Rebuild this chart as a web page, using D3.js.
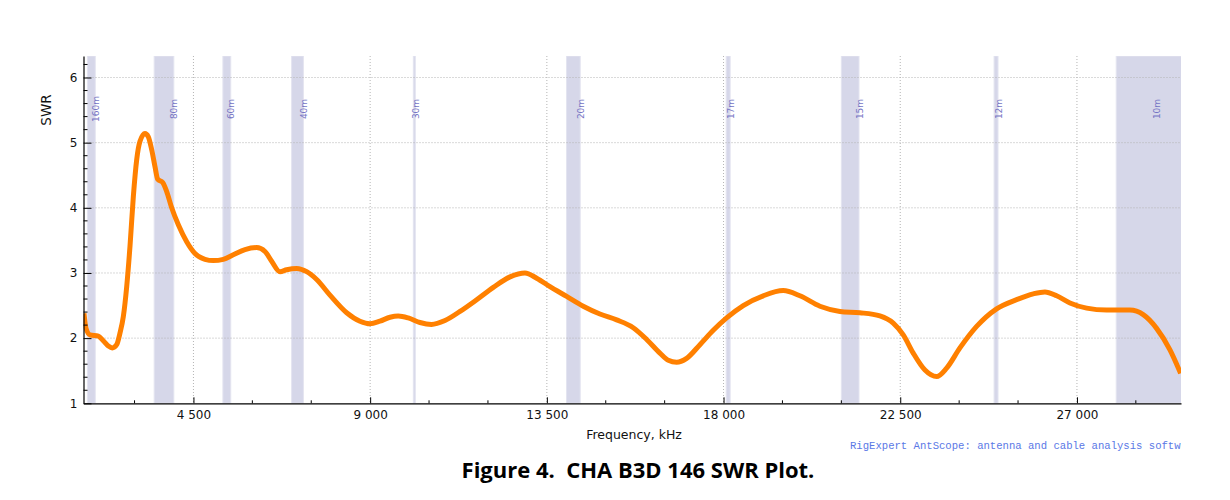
<!DOCTYPE html>
<html>
<head>
<meta charset="utf-8">
<script src="https://cdn.jsdelivr.net/npm/d3@7"></script>
<style>
  body { margin: 0; background: #fff; }
  svg { display: block; }
</style>
</head>
<body>
<div class="svg-content"></div>
<script>
// SWR readings, frequency in kHz
var freqs = [1713, 1764, 1866, 2077, 2204, 2332, 2433, 2545, 2630, 2714, 2800, 2884, 2969, 3055, 3139,
  3266, 3351, 3437, 3521, 3589, 3717, 3819, 3946, 4115, 4328, 4539, 4794, 5006, 5260, 5515, 5813,
  6110, 6322, 6492, 6704, 6874, 7129, 7384, 7638, 7977, 8402, 8741, 8996, 9250, 9505, 9716, 9971,
  10269, 10562, 10906, 11288, 11713, 12137, 12562, 12943, 13241, 13580, 14005, 14427, 14852, 15278,
  15700, 16042, 16380, 16592, 16806, 17060, 17399, 17738, 18078, 18502, 19011, 19520, 19945, 20455,
  20964, 21473, 21982, 22322, 22577, 22831, 23129, 23427, 23681, 24020, 24445, 24954, 25464, 25888,
  26185, 26483, 26822, 27247, 27756, 28350, 28688, 29029, 29369, 29640];
var swr = [2.38, 2.15, 2.05, 2.03, 1.96, 1.88, 1.85, 1.90, 2.08, 2.33, 2.79, 3.41, 4.17, 4.74, 5.02,
  5.14, 5.09, 4.89, 4.63, 4.44, 4.39, 4.25, 4.00, 3.74, 3.48, 3.30, 3.21, 3.19, 3.21, 3.28, 3.36,
  3.39, 3.33, 3.18, 3.02, 3.05, 3.07, 3.02, 2.90, 2.66, 2.39, 2.26, 2.22, 2.26, 2.32, 2.34, 2.31,
  2.24, 2.21, 2.27, 2.41, 2.59, 2.78, 2.94, 3.00, 2.92, 2.79, 2.64, 2.49, 2.37, 2.28,
  2.16, 1.98, 1.77, 1.66, 1.63, 1.69, 1.90, 2.12, 2.31, 2.50, 2.65, 2.73, 2.65, 2.49,
  2.41, 2.39, 2.34, 2.23, 2.05, 1.77, 1.51, 1.41, 1.54, 1.85, 2.18, 2.45, 2.59, 2.68,
  2.71, 2.65, 2.54, 2.46, 2.43, 2.43, 2.36, 2.15, 1.82, 1.46];

// ham bands
var bandNames = ["160m", "80m", "60m", "40m", "30m", "20m", "17m", "15m", "12m", "10m"];
var bandLo = [1800, 3500, 5250, 7000, 10100, 14000, 18068, 21000, 24890, 28000];
var bandHi = [2000, 4000, 5450, 7300, 10150, 14350, 18168, 21450, 24990, 29700];

var xTicks = [4500, 9000, 13500, 18000, 22500, 27000];
var xMinor = [3000, 6000, 7500, 10500, 12000, 15000, 16500, 19500, 21000, 24000, 25500, 28500];
var yTicks = [1, 2, 3, 4, 5, 6];

var width = 1230, height = 500;
var plotLeft = 83.5, plotTop = 56, plotRight = 1181, plotBottom = 403.3;

var svg = d3.select(".svg-content")
  .append("svg")
  .attr("width", width)
  .attr("height", height);

var x = d3.scaleLinear().domain([1700, 29650]).range([plotLeft, plotRight]);
var y = d3.scaleLinear().domain([1, 6.33]).range([plotBottom, plotTop]);

svg.append("clipPath").attr("id", "plot")
  .append("rect")
  .attr("x", plotLeft).attr("y", plotTop)
  .attr("width", plotRight - plotLeft).attr("height", plotBottom - plotTop);

var plot = svg.append("g").attr("clip-path", "url(#plot)");

// bands
var bands = bandNames.map(function(n, i) { return {name: n, lo: bandLo[i], hi: bandHi[i]}; });
plot.selectAll("rect.band")
  .data(bands)
  .enter().append("rect")
  .attr("class", "band")
  .attr("x", function(d) { return x(d.lo); })
  .attr("y", plotTop)
  .attr("width", function(d) { return Math.max(1.5, x(d.hi) - x(d.lo)); })
  .attr("height", plotBottom - plotTop)
  .attr("fill", "#d6d7e9")
  .attr("stroke", "#e3e4f0")
  .attr("stroke-width", 1);

// grid
plot.selectAll("line.hgrid")
  .data(yTicks.slice(1))
  .enter().append("line")
  .attr("x1", plotLeft).attr("x2", plotRight)
  .attr("y1", function(d) { return y(d); })
  .attr("y2", function(d) { return y(d); })
  .attr("stroke", "#b4b4b4")
  .attr("stroke-dasharray", "1,2");

plot.selectAll("line.vgrid")
  .data(xTicks)
  .enter().append("line")
  .attr("y1", plotTop).attr("y2", plotBottom)
  .attr("x1", function(d) { return x(d); })
  .attr("x2", function(d) { return x(d); })
  .attr("stroke", "#b4b4b4")
  .attr("stroke-dasharray", "1,2");

// band labels
svg.selectAll("text.band")
  .data(bands)
  .enter().append("text")
  .attr("transform", function(d) {
    var bx = Math.min(x(d.hi) + 1, plotRight - 24);
    return "translate(" + bx + "," + 109 + ") rotate(-90)";
  })
  .attr("text-anchor", "middle")
  .attr("dominant-baseline", "middle")
  .attr("font-family", "DejaVu Sans")
  .attr("font-size", "9px")
  .attr("fill", "#7474c4")
  .text(function(d) { return d.name; });

// curve
var pts = freqs.map(function(f, i) { return [f, swr[i]]; });
var line = d3.line()
  .x(function(d) { return x(d[0]); })
  .y(function(d) { return y(d[1]); })
  .curve(d3.curveMonotoneX);

plot.append("path")
  .datum(pts)
  .attr("d", line)
  .attr("fill", "none")
  .attr("stroke", "#ff8000")
  .attr("stroke-width", 5)
  .attr("stroke-linejoin", "round");

// axes
var fmt = function(d) { return d3.format(",")(d).replace(/,/g, " "); };

var xAxis = svg.append("g")
  .attr("transform", "translate(0," + plotBottom + ")")
  .call(d3.axisBottom(x).tickValues(xTicks).tickFormat(fmt).tickSize(-6).tickPadding(7).tickSizeOuter(0));

xAxis.selectAll(".minor")
  .data(xMinor)
  .enter().append("line")
  .attr("class", "minor")
  .attr("x1", function(d) { return x(d); })
  .attr("x2", function(d) { return x(d); })
  .attr("y1", 0).attr("y2", -3)
  .attr("stroke", "#000");

var yMinor = d3.range(1.2, 6.33, 0.2).filter(function(v) { return Math.abs(v - Math.round(v)) > 0.05; });

var yAxis = svg.append("g")
  .attr("transform", "translate(" + plotLeft + ",0)")
  .call(d3.axisLeft(y).tickValues(yTicks).tickFormat(d3.format("d")).tickSize(-8).tickPadding(6).tickSizeOuter(0));

yAxis.selectAll(".minor")
  .data(yMinor)
  .enter().append("line")
  .attr("class", "minor")
  .attr("x1", 0).attr("x2", 4)
  .attr("y1", function(d) { return y(d); })
  .attr("y2", function(d) { return y(d); })
  .attr("stroke", "#000");

svg.selectAll(".domain").attr("stroke", "#000").attr("stroke-width", 1.2);
svg.selectAll(".tick text")
  .attr("font-family", "DejaVu Sans")
  .attr("font-size", "12px")
  .attr("fill", "#111");

// titles
svg.append("text")
  .attr("transform", "translate(47,110) rotate(-90)")
  .attr("text-anchor", "middle")
  .attr("dominant-baseline", "middle")
  .attr("font-family", "DejaVu Sans")
  .attr("font-size", "13.5px")
  .attr("fill", "#111")
  .text("SWR");

svg.append("text")
  .attr("x", 634).attr("y", 439)
  .attr("text-anchor", "middle")
  .attr("font-family", "DejaVu Sans")
  .attr("font-size", "12.5px")
  .attr("fill", "#111")
  .text("Frequency, kHz");

svg.append("clipPath").attr("id", "wm")
  .append("rect").attr("x", 0).attr("y", 0).attr("width", plotRight).attr("height", height);

svg.append("text")
  .attr("clip-path", "url(#wm)")
  .attr("x", 850).attr("y", 449)
  .attr("font-family", "Liberation Mono")
  .attr("font-size", "10.6px")
  .attr("fill", "#5a78e6")
  .text("RigExpert AntScope: antenna and cable analysis software");

svg.append("text")
  .attr("x", 638).attr("y", 478)
  .attr("text-anchor", "middle")
  .attr("font-family", "Open Sans")
  .attr("font-weight", "bold")
  .attr("font-size", "22px")
  .attr("fill", "#000")
  .style("white-space", "pre")
  .text("Figure 4.  CHA B3D 146 SWR Plot.");
</script>
</body>
</html>
